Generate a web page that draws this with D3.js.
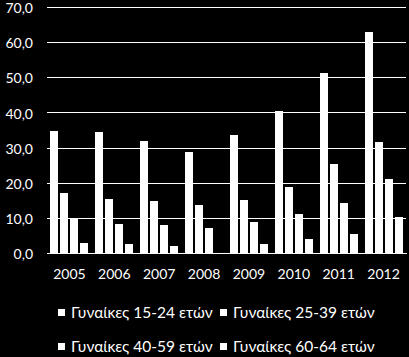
<!DOCTYPE html>
<html>
<head>
<meta charset="utf-8">
<script src="https://cdn.jsdelivr.net/npm/d3@7"></script>
<style>
  html, body { margin: 0; padding: 0; background: #000; }
  svg { display: block; }
  text { font-family: Lato, "Open Sans", "Noto Sans", sans-serif; fill: #fff; }
</style>
</head>
<body>
<svg id="chart" width="409" height="357"></svg>
<script>
const years = ["2005", "2006", "2007", "2008", "2009", "2010", "2011", "2012"];
const seriesNames = ["Γυναίκες 15-24 ετών", "Γυναίκες 25-39 ετών", "Γυναίκες 40-59 ετών", "Γυναίκες 60-64 ετών"];
const women15_24 = [34.8, 34.4, 31.9, 28.8, 33.6, 40.4, 51.2, 62.9];
const women25_39 = [17.1, 15.4, 14.8, 13.7, 15.1, 18.8, 25.3, 31.6];
const women40_59 = [9.9, 8.3, 8.0, 7.1, 8.8, 11.1, 14.2, 21.1];
const women60_64 = [2.9, 2.6, 2.0, 0.0, 2.6, 4.0, 5.4, 10.2];
const yTicks = [0, 10, 20, 30, 40, 50, 60, 70];

const seriesValues = [women15_24, women25_39, women40_59, women60_64];

const svg = d3.select("#chart");
const margin = { left: 47, right: 3, top: 7, bottom: 104 };
const W = 409, H = 357;
const plotW = W - margin.left - margin.right;
const plotH = H - margin.top - margin.bottom;

const g = svg.append("g").attr("transform", `translate(${margin.left},${margin.top})`);

const x0 = d3.scaleBand().domain(years).range([0, plotW]).paddingInner(0).paddingOuter(0);
const x1 = d3.scaleBand().domain(d3.range(4)).range([2.5, x0.bandwidth() - 2.4]).paddingInner(0.2).paddingOuter(0.1);
const y = d3.scaleLinear().domain([0, 70]).range([plotH, 0]);

// gridlines
const yAxis = d3.axisLeft(y).tickValues(yTicks).tickSize(-plotW).tickPadding(14)
  .tickFormat(d => d3.format(".1f")(d).replace(".", ","));
const ya = g.append("g").call(yAxis);
ya.select(".domain").remove();
ya.selectAll(".tick line").attr("stroke", "#fff").attr("stroke-width", 1).attr("shape-rendering", "crispEdges");
ya.selectAll(".tick text").attr("font-size", 14).attr("dy", "0.4em").style("fill", "#fff").attr("font-family", "Lato, 'Open Sans', sans-serif");

// bars
years.forEach((yr, i) => {
  seriesValues.forEach((vals, s) => {
    const v = vals[i];
    if (v <= 0) return;
    g.append("rect")
      .attr("x", x0(yr) + x1(s))
      .attr("y", y(v))
      .attr("width", x1.bandwidth())
      .attr("height", y(0) - y(v))
      .attr("fill", "#fff")
      .attr("shape-rendering", "crispEdges");
  });
});

// x axis
const xAxis = d3.axisBottom(x0).tickSize(0).tickPadding(16);
const xa = g.append("g").attr("transform", `translate(0,${plotH})`).call(xAxis);
xa.select(".domain").attr("stroke", "#fff").attr("shape-rendering", "crispEdges");
xa.selectAll(".tick text").attr("font-size", 14).style("fill", "#fff").attr("font-family", "Lato, 'Open Sans', sans-serif");

// legend
const legendPos = [[58, 313], [220, 313], [58, 347], [220, 347]];
seriesNames.forEach((name, s) => {
  const [lx, ly] = legendPos[s];
  const lg = svg.append("g").attr("transform", `translate(${lx},${ly})`);
  lg.append("rect").attr("x", 0).attr("y", -4).attr("width", 7).attr("height", 7).attr("fill", "#fff");
  lg.append("text").attr("x", 13).attr("y", 0).attr("dy", "0.35em")
    .attr("font-size", 15.5).text(name);
});
</script>
</body>
</html>
